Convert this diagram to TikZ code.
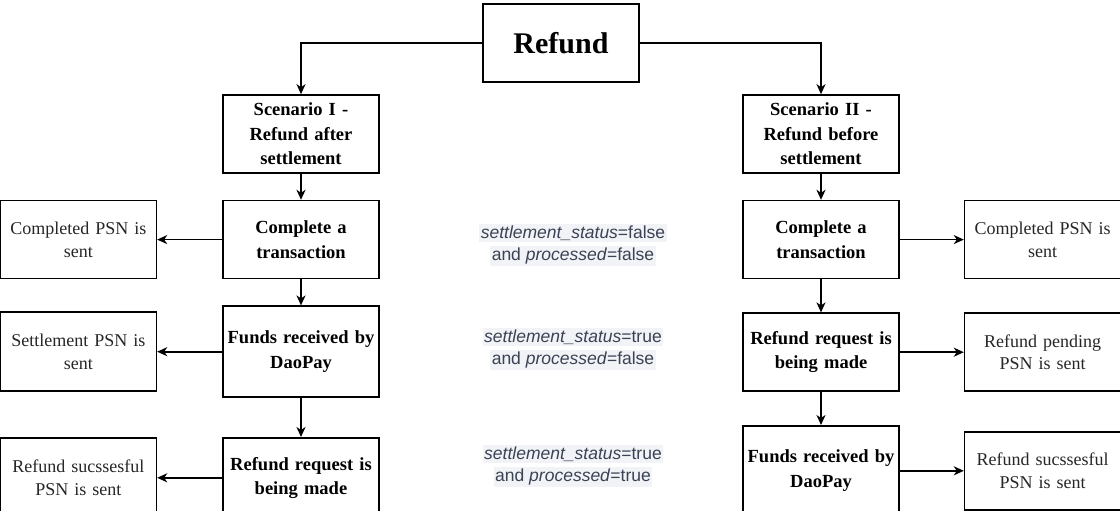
\documentclass[tikz,border=0pt]{standalone}
\usepackage{fontspec}
\setmainfont{Liberation Serif}
\newfontfamily\labelfont{Liberation Sans}
\usetikzlibrary{positioning,arrows.meta}
\definecolor{labeltext}{RGB}{58,66,84}
\definecolor{labelback}{RGB}{241,243,247}
\newcommand{\hl}[1]{{\setlength{\fboxsep}{1.5pt}\colorbox{labelback}{#1}}}

\begin{document}
\begin{tikzpicture}[x=1pt, y=-1pt, line width=1.6pt, >={Stealth[length=10pt, width=9pt, inset=3pt]},
    main/.style = {draw, line width=1.6pt, minimum width=156pt, minimum height=78pt, text width=150pt, align=center, inner sep=0pt, font=\bfseries\fontsize{18.5}{24.5}\selectfont},
    psn/.style = {draw, line width=1.6pt, minimum width=156pt, minimum height=78pt, text width=150pt, align=center, inner sep=0pt, text=black!85, font=\fontsize{18}{22.5}\selectfont},
    status/.style = {text=labeltext, align=center, inner sep=0pt, font=\labelfont\fontsize{17.5}{22}\selectfont}]
                \useasboundingbox (0,0) rectangle (1120,511);
                \node[main, font=\bfseries\fontsize{30}{36}\selectfont] (refund) at (561,43) {Refund};
                \node[main] (s1) at (301,134) {Scenario I -\\Refund after\\settlement};
                \node[main] (c1) [below=26pt of s1] {Complete a\\transaction};
                \node[main, minimum height=91pt] (f1) [below=26pt of c1] {Funds received by\\DaoPay};
                \node[main, minimum height=80pt] (r1) [below=39pt of f1] {Refund request is\\being made};
                \node[psn] (p1) [left=65pt of c1] {Completed PSN is\\sent};
                \node[psn, minimum height=79pt] (p2) [left=65pt of f1] {Settlement PSN is\\sent};
                \node[psn, minimum height=80pt] (p3) [left=65pt of r1] {Refund sucssesful\\PSN is sent};
                \node[main] (s2) at (821,134) {Scenario II -\\Refund before\\settlement};
                \node[main] (c2) [below=26pt of s2] {Complete a\\transaction};
                \node[main] (r2) [below=33pt of c2] {Refund request is\\being made};
                \node[main, minimum height=90pt] (f2) [below=33pt of r2] {Funds received by\\DaoPay};
                \node[psn] (q1) [right=64pt of c2] {Completed PSN is\\sent};
                \node[psn] (q2) [right=64pt of r2] {Refund pending\\PSN is sent};
                \node[psn] (q3) [right=64pt of f2] {Refund sucssesful\\PSN is sent};
                \node[status] (l1) at (573,245) {\hl{\textit{settlement\_status}=false}\\\hl{and \textit{processed}=false}};
                \node[status] (l2) at (573,349) {\hl{\textit{settlement\_status}=true}\\\hl{and \textit{processed}=false}};
                \node[status] (l3) at (573,466) {\hl{\textit{settlement\_status}=true}\\\hl{and \textit{processed}=true}};
                \draw[->] (refund.west) -| (s1.north);
                \draw[->] (refund.east) -| (s2.north);
                \draw[->] (s1) -- (c1);
                \draw[->] (c1) -- (f1);
                \draw[->] (f1) -- (r1);
                \draw[->] (c1) -- (p1);
                \draw[->] (f1) -- (p2);
                \draw[->] (r1) -- (p3);
                \draw[->] (s2) -- (c2);
                \draw[->] (c2) -- (r2);
                \draw[->] (r2) -- (f2);
                \draw[->] (c2) -- (q1);
                \draw[->] (r2) -- (q2);
                \draw[->] (f2) -- (q3);
            \end{tikzpicture}
\end{document}
